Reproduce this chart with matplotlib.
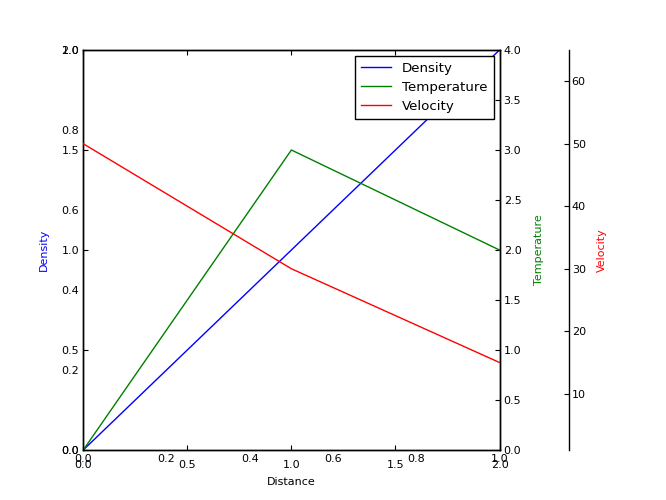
import matplotlib
matplotlib.use("Agg")
import matplotlib.pyplot as plt

distance = [0, 1, 2]
density = [0, 1, 2]
temperature = [0, 3, 2]
velocity = [50, 30, 15]

host_ticks = [0.0, 0.5, 1.0, 1.5, 2.0]
unit_ticks = [0.0, 0.2, 0.4, 0.6, 0.8, 1.0]
temp_ticks = [0.0, 0.5, 1.0, 1.5, 2.0, 2.5, 3.0, 3.5, 4.0]
vel_ticks = [10, 20, 30, 40, 50, 60]

fig = plt.figure(figsize=(6.66, 5.0), dpi=100)
rect = [0.125, 0.1, 0.625, 0.8]

# underlying plain axes (0-1), only its labels show
base = fig.add_axes(rect)
base.set_xlim(0, 1)
base.set_ylim(0, 1)
base.set_xticks(unit_ticks)
base.set_yticks(unit_ticks)
base.tick_params(length=0, labelsize=8, pad=3)
for s in base.spines.values():
    s.set_visible(False)
base.patch.set_visible(False)

host = fig.add_axes(rect)
host.patch.set_visible(False)
par1 = host.twinx()
par2 = host.twinx()
par2.spines["right"].set_position(("outward", 50))

p1, = host.plot(distance, density, color="b", lw=1, label="Density")
p2, = par1.plot(distance, temperature, color="g", lw=1, label="Temperature")
p3, = par2.plot(distance, velocity, color="r", lw=1, label="Velocity")

host.set_xlim(0, 2)
host.set_ylim(0, 2)
par1.set_ylim(0, 4)
par2.set_ylim(1, 65)
host.set_xticks(host_ticks)
host.set_yticks(host_ticks)
par1.set_yticks(temp_ticks)
par2.set_yticks(vel_ticks)

host.tick_params(direction="in", length=3.5, labelsize=8, top=True)
host.tick_params(axis="x", pad=7)
host.tick_params(axis="y", pad=3)
par1.tick_params(direction="in", length=3.5, labelsize=8, pad=3)
par2.tick_params(direction="in", length=3.5, labelsize=8, pad=2)
for ax in (host, par1, par2):
    for s in ax.spines.values():
        s.set_linewidth(1)
par2.spines["top"].set_visible(False)
par2.spines["left"].set_visible(False)
par2.spines["bottom"].set_visible(False)

host.set_xlabel("Distance", fontsize=8, labelpad=5.5)
host.set_ylabel("Density", fontsize=8, color="b", labelpad=9)
par1.set_ylabel("Temperature", fontsize=8, color="g", labelpad=9)
par2.set_ylabel("Velocity", fontsize=8, color="r", labelpad=8)

leg = par2.legend(handles=[p1, p2, p3], loc="upper right", fontsize=9.6,
                  fancybox=False, framealpha=1, edgecolor="black",
                  borderaxespad=0.45, handlelength=2.3, borderpad=0.45,
                  labelspacing=0.45, handletextpad=0.8)
leg.get_frame().set_linewidth(1)

fig.savefig("out.png", dpi=100)
